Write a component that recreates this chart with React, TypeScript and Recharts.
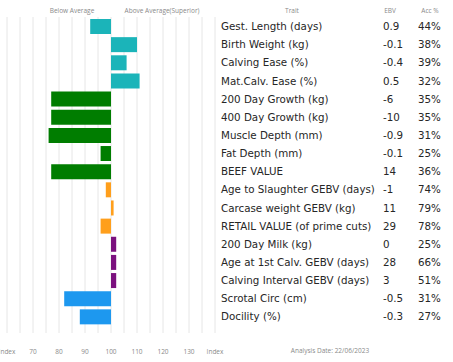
import React from "react";
import { BarChart, Bar, XAxis, YAxis, CartesianGrid, Cell } from "recharts";

const traits = [
  "Gest. Length (days)",
  "Birth Weight (kg)",
  "Calving Ease (%)",
  "Mat.Calv. Ease (%)",
  "200 Day Growth (kg)",
  "400 Day Growth (kg)",
  "Muscle Depth (mm)",
  "Fat Depth (mm)",
  "BEEF VALUE",
  "Age to Slaughter GEBV (days)",
  "Carcase weight GEBV (kg)",
  "RETAIL VALUE (of prime cuts)",
  "200 Day Milk (kg)",
  "Age at 1st Calv. GEBV (days)",
  "Calving Interval GEBV (days)",
  "Scrotal Circ (cm)",
  "Docility (%)",
];
const ebvValues = ["0.9", "-0.1", "-0.4", "0.5", "-6", "-10", "-0.9", "-0.1", "14", "-1", "11", "29", "0", "28", "3", "-0.5", "-0.3"];
const accValues = ["44%", "38%", "39%", "32%", "35%", "35%", "31%", "25%", "36%", "74%", "79%", "78%", "25%", "66%", "51%", "31%", "27%"];
const indexValues = [92, 110, 106, 111, 77, 77, 76, 96, 77, 98, 101, 96, 102, 102, 102, 82, 88];
const groups = ["calving", "calving", "calving", "calving", "growth", "growth", "growth", "growth", "growth", "carcase", "carcase", "carcase", "maternal", "maternal", "maternal", "other", "other"];
const groupColors: Record<string, string> = {
  calving: "#1bb4b9",
  growth: "#007d00",
  carcase: "#ff9f1c",
  maternal: "#7b117e",
  other: "#1d98ef",
};
const xTicks = [60, 65, 70, 75, 80, 85, 90, 95, 100, 105, 110, 115, 120, 125, 130, 135, 140];
const baseIndex = 100;

const rows = traits.map((t, i) => ({
  trait: t,
  range: [Math.min(baseIndex, indexValues[i]), Math.max(baseIndex, indexValues[i])],
  color: groupColors[groups[i]],
}));

const FONT = "'Open Sans', sans-serif";
const TFONT = "'DejaVu Sans', sans-serif";

const TableTick = (props: any) => {
  const { y, payload } = props;
  const i = traits.indexOf(payload.value);
  return (
    <g fontFamily={TFONT} fontSize={10.3} fill="#262626">
      <text x={221} y={y} dy={4}>{payload.value}</text>
      <text x={383} y={y} dy={4}>{ebvValues[i]}</text>
      <text x={418} y={y} dy={4}>{accValues[i]}</text>
    </g>
  );
};

const fmtX = (v: number) => (v === 60 || v === 140 ? "Index" : v % 10 === 0 ? String(v) : "");

const hdr: React.CSSProperties = {
  position: "absolute",
  fontFamily: FONT,
  fontSize: 6.5,
  color: "#8a8a8a",
  whiteSpace: "nowrap",
  transform: "translateX(-50%)",
  lineHeight: "8px",
};

export default function App() {
  return (
    <div style={{ position: "absolute", left: 0, top: 0, width: 453, height: 362, background: "#fff" }}>
      <BarChart
        width={453}
        height={362}
        data={rows}
        layout="vertical"
        margin={{ top: 17, right: 0, bottom: 0, left: 7 }}
        barSize={15}
      >
        <CartesianGrid horizontal={false} stroke="#e6e6e6" />
        <XAxis
          type="number"
          domain={[60, 140]}
          ticks={xTicks}
          tickFormatter={fmtX}
          axisLine={false}
          tickLine={false}
          height={29}
          interval={0}
          tick={{ fontSize: 6.5, fill: "#8a8a8a", fontFamily: FONT }}
          tickMargin={10}
        />
        <YAxis
          type="category"
          dataKey="trait"
          orientation="right"
          width={238}
          axisLine={false}
          tickLine={false}
          interval={0}
          padding={{ top: 0, bottom: 7.5 }}
          tick={<TableTick />}
        />
        <Bar dataKey="range" isAnimationActive={false}>
          {rows.map((r, i) => (
            <Cell key={i} fill={r.color} />
          ))}
        </Bar>
      </BarChart>
      <div style={{ ...hdr, left: 72, top: 7 }}>Below Average</div>
      <div style={{ ...hdr, left: 162, top: 7 }}>Above Average(Superior)</div>
      <div style={{ ...hdr, left: 292, top: 7 }}>Trait</div>
      <div style={{ ...hdr, left: 390, top: 7 }}>EBV</div>
      <div style={{ ...hdr, left: 430, top: 7 }}>Acc %</div>
      <div style={{ ...hdr, left: 330, top: 347 }}>Analysis Date: 22/06/2023</div>
    </div>
  );
}
